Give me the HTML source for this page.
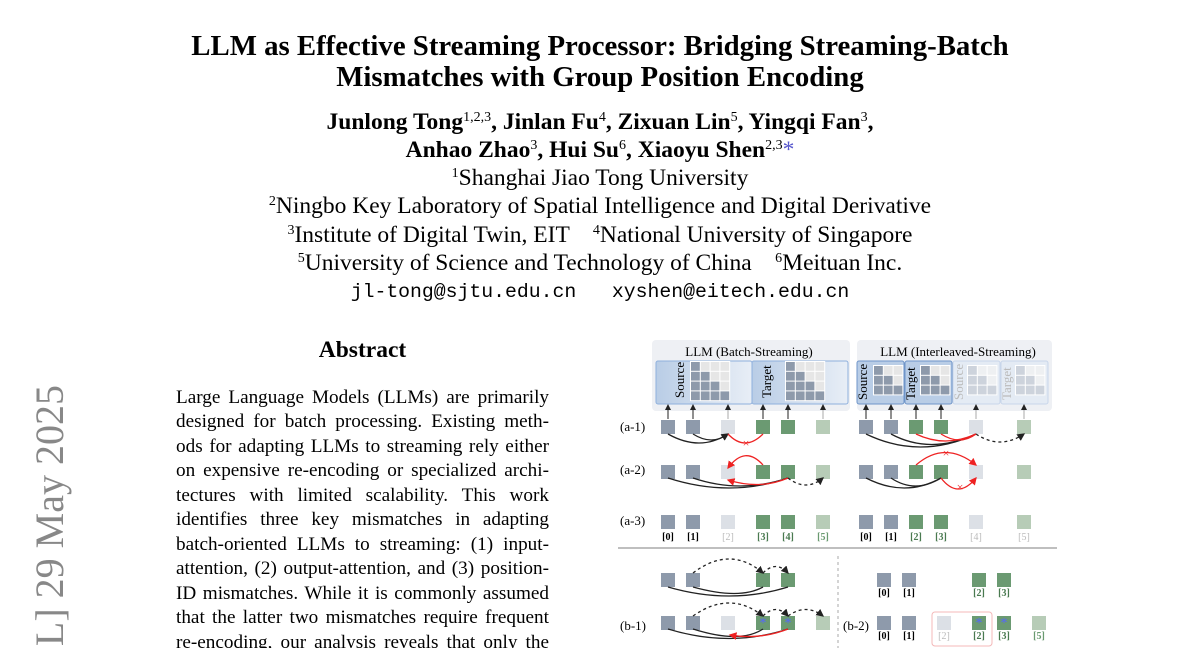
<!DOCTYPE html>
<html><head><meta charset="utf-8"><style>
html,body{margin:0;width:1200px;height:648px;overflow:hidden;background:#fff}
#w{position:relative;width:1200px;height:648px;overflow:hidden;font-family:"Liberation Serif",serif;color:#000}
.c{position:absolute;left:0;width:1200px;text-align:center;white-space:nowrap}
.t{font-weight:bold;font-size:28.8px;line-height:32px}
.a{font-weight:bold;font-size:23.5px;line-height:26px}
.f{font-size:23.5px;line-height:26px}
sup{font-size:14px;vertical-align:8px;font-weight:normal;line-height:0}
.ab{position:absolute;left:176px;width:373px;font-size:19.2px;text-align:justify;text-align-last:justify;white-space:nowrap;line-height:20px}
.side{position:absolute;left:28px;top:1285px;width:900px;height:44px;transform:rotate(-90deg);transform-origin:0 0;text-align:right;font-size:40px;color:#888;white-space:nowrap;line-height:44px}
</style></head><body><div id="w">
<div class="c t" style="top:30px">LLM as Effective Streaming Processor: Bridging Streaming-Batch</div>
<div class="c t" style="top:61px">Mismatches with Group Position Encoding</div>
<div class="c a" style="top:109px">Junlong Tong<sup>1,2,3</sup>, Jinlan Fu<sup>4</sup>, Zixuan Lin<sup>5</sup>, Yingqi Fan<sup>3</sup>,</div>
<div class="c a" style="top:137px">Anhao Zhao<sup>3</sup>, Hui Su<sup>6</sup>, Xiaoyu Shen<sup>2,3</sup><span style="color:#55c;font-weight:normal">*</span></div>
<div class="c f" style="top:165px"><sup>1</sup>Shanghai Jiao Tong University</div>
<div class="c f" style="top:193px"><sup>2</sup>Ningbo Key Laboratory of Spatial Intelligence and Digital Derivative</div>
<div class="c f" style="top:222px"><sup>3</sup>Institute of Digital Twin, EIT &nbsp;&nbsp;&nbsp;<sup>4</sup>National University of Singapore</div>
<div class="c f" style="top:250px"><sup>5</sup>University of Science and Technology of China &nbsp;&nbsp;&nbsp;<sup>6</sup>Meituan Inc.</div>
<div class="c" style="top:280px;font-family:'Liberation Mono',monospace;font-size:19.8px;line-height:24px">jl-tong@sjtu.edu.cn &nbsp;&nbsp;xyshen@eitech.edu.cn</div>
<div style="position:absolute;left:176px;width:373px;top:336px;text-align:center;font-weight:bold;font-size:23.5px;line-height:28px">Abstract</div>
<div class="ab" style="top:388px">Large Language Models (LLMs) are primarily</div>
<div class="ab" style="top:412px">designed for batch processing. Existing meth-</div>
<div class="ab" style="top:437px">ods for adapting LLMs to streaming rely either</div>
<div class="ab" style="top:461px">on expensive re-encoding or specialized archi-</div>
<div class="ab" style="top:486px">tectures with limited scalability. This work</div>
<div class="ab" style="top:510px">identifies three key mismatches in adapting</div>
<div class="ab" style="top:535px">batch-oriented LLMs to streaming: (1) input-</div>
<div class="ab" style="top:559px">attention, (2) output-attention, and (3) position-</div>
<div class="ab" style="top:584px">ID mismatches. While it is commonly assumed</div>
<div class="ab" style="top:608px">that the latter two mismatches require frequent</div>
<div class="ab" style="top:633px">re-encoding, our analysis reveals that only the</div>
<div class="side">arXiv:2505.16983v2 [cs.CL] 29 May 2025</div>

<svg width="1200" height="648" style="position:absolute;left:0;top:0" font-family="Liberation Serif,serif">
<defs><marker id="ar" markerWidth="6" markerHeight="6" refX="5" refY="3" orient="auto"><path d="M0,0L6,3L0,6z" fill="#222"/></marker>
<marker id="rr" markerWidth="6" markerHeight="6" refX="5" refY="3" orient="auto"><path d="M0,0L6,3L0,6z" fill="#e22"/></marker>
<linearGradient id="bg" x1="0" x2="1"><stop offset="0" stop-color="#b9cde6"/><stop offset="1" stop-color="#e8eef6"/></linearGradient></defs>
<rect x="652" y="340" width="198" height="71" rx="4" fill="#eef0f4"/>
<rect x="857" y="340" width="195" height="71" rx="4" fill="#eef0f4"/>
<text x="749" y="356" font-size="13" text-anchor="middle">LLM (Batch-Streaming)</text>
<text x="958" y="356" font-size="13" text-anchor="middle">LLM (Interleaved-Streaming)</text>
<rect x="656" y="361" width="96" height="43" rx="2" fill="url(#bg)" stroke="#8fb0dd"/>
<rect x="752" y="361" width="96" height="43" rx="2" fill="url(#bg)" stroke="#8fb0dd"/>
<rect x="857" y="361" width="47" height="43" rx="2" fill="#b9cde6" stroke="#6f95c9"/>
<rect x="905" y="361" width="47" height="43" rx="2" fill="#b9cde6" stroke="#6f95c9"/>
<rect x="953" y="361" width="47" height="43" rx="2" fill="#e4ebf4" stroke="#c8d6ea"/>
<rect x="1001" y="361" width="47" height="43" rx="2" fill="#e4ebf4" stroke="#c8d6ea"/>
<g font-size="13"><text transform="translate(684,398) rotate(-90)">Source</text>
<text transform="translate(771,398) rotate(-90)">Target</text>
<text transform="translate(867,400) rotate(-90)">Source</text>
<text transform="translate(915,400) rotate(-90)">Target</text>
<text transform="translate(963,400) rotate(-90)" fill="#bbb">Source</text>
<text transform="translate(1011,400) rotate(-90)" fill="#bbb">Target</text></g>
<g id="grids"></g>
<g id="sq"></g>
<g font-size="13"><text x="620" y="431">(a-1)</text><text x="620" y="474">(a-2)</text><text x="620" y="525">(a-3)</text>
<text x="620" y="630">(b-1)</text><text x="843" y="630">(b-2)</text></g>
<g font-size="10" font-weight="bold" text-anchor="middle">
<text x="668" y="540">[0]</text><text x="693" y="540">[1]</text><text x="728" y="540" fill="#bbb" font-weight="normal">[2]</text><text x="763" y="540" fill="#4a7a50">[3]</text><text x="788" y="540" fill="#4a7a50">[4]</text><text x="823" y="540" fill="#6a9a70">[5]</text>
<text x="866" y="540">[0]</text><text x="891" y="540">[1]</text><text x="916" y="540" fill="#4a7a50">[2]</text><text x="941" y="540" fill="#4a7a50">[3]</text><text x="976" y="540" fill="#bbb" font-weight="normal">[4]</text><text x="1024" y="540" fill="#bbb" font-weight="normal">[5]</text>
<text x="884" y="596">[0]</text><text x="909" y="596">[1]</text><text x="979" y="596" fill="#4a7a50">[2]</text><text x="1004" y="596" fill="#4a7a50">[3]</text>
<text x="884" y="639">[0]</text><text x="909" y="639">[1]</text><text x="944" y="639" fill="#bbb" font-weight="normal">[2]</text><text x="979" y="639" fill="#4a7a50">[2]</text><text x="1004" y="639" fill="#4a7a50">[3]</text><text x="1039" y="639" fill="#6a9a70">[5]</text></g>
<line x1="618" y1="548" x2="1057" y2="548" stroke="#aaa" stroke-width="1.5"/>
<line x1="838" y1="556" x2="838" y2="648" stroke="#aaa" stroke-dasharray="3,3"/>
<rect x="932" y="612" width="60" height="34" rx="3" fill="none" stroke="#f4b8b8"/>
<g fill="none" stroke="#222" stroke-width="1.3">
<path d="M668,434 Q700,452 728,434" marker-end="url(#ar)"/><path d="M693,434 Q712,446 728,434"/>
<path d="M866,434 Q920,460 976,434"/><path d="M891,434 Q930,455 976,434"/><path d="M976,434 Q1000,450 1024,434" stroke-dasharray="3,3" marker-end="url(#ar)"/>
<path d="M668,478 Q730,498 788,478"/><path d="M693,478 Q740,494 788,478"/><path d="M788,478 Q806,492 823,478" stroke-dasharray="3,3" marker-end="url(#ar)"/>
<path d="M866,478 Q905,498 941,478"/><path d="M891,478 Q915,494 941,478"/>
<path d="M668,587 Q730,605 788,587"/><path d="M693,587 Q740,600 763,587"/><path d="M693,573 Q730,545 763,573" stroke-dasharray="3,3" marker-end="url(#ar)"/><path d="M763,573 Q776,560 788,573" stroke-dasharray="3,3" marker-end="url(#ar)"/>
<path d="M668,629 Q730,648 788,629"/><path d="M693,629 Q740,644 763,629"/><path d="M693,616 Q730,590 763,616" stroke-dasharray="3,3" marker-end="url(#ar)"/><path d="M763,616 Q776,603 788,616" stroke-dasharray="3,3" marker-end="url(#ar)"/><path d="M788,616 Q806,603 823,616" stroke-dasharray="3,3" marker-end="url(#ar)"/>
</g>
<g fill="none" stroke="#e22" stroke-width="1.3">
<path d="M728,434 Q745,452 763,434"/><path d="M976,434 Q945,448 916,434"/><path d="M976,434 Q960,446 941,434"/>
<path d="M763,465 Q745,445 728,468" marker-end="url(#rr)"/><path d="M788,478 Q760,490 728,480" marker-end="url(#rr)"/>
<path d="M916,465 Q945,440 976,465" marker-end="url(#rr)"/><path d="M941,478 Q958,500 976,478" marker-end="url(#rr)"/>
<path d="M788,629 Q760,640 730,635" marker-end="url(#rr)"/></g>
<g fill="#e22" font-size="12" text-anchor="middle"><text x="746" y="447">×</text><text x="946" y="457">×</text><text x="960" y="491">×</text></g>
</svg>
</div>
<script>
var s='http://www.w3.org/2000/svg',g=document.getElementById('grids'),q=document.getElementById('sq');
function r(p,x,y,w,h,f){var e=document.createElementNS(s,'rect');e.setAttribute('x',x);e.setAttribute('y',y);e.setAttribute('width',w);e.setAttribute('height',h);e.setAttribute('fill',f);p.appendChild(e);}
function grid(x,y,n,c,op){r(g,x-1,y-1,n*9.8+1,n*9.8+1,'#fff');for(var i=0;i<n;i++)for(var j=0;j<n;j++){r(g,x+j*9.8,y+i*9.8,8.8,8.8,j<=i?(op?'#cdd3dc':'#8e9aab'):(op?'#eef0f2':'#e6e6e6'));}}
grid(691,362,4);grid(786,362,4);grid(874,366,3);grid(921,366,3);grid(968,366,3,0,1);grid(1016,366,3,0,1);
var G='#8e9aab',L='#dce0e6',D='#6b9a72',P='#b7ccb7';
function row(y,xs){xs.forEach(function(a){r(q,a[0]-7,y,14,14,a[1]);});}
var A=[[668,G],[693,G],[728,L],[763,D],[788,D],[823,P]],B=[[866,G],[891,G],[916,D],[941,D],[976,L],[1024,P]];
[420,465,515].forEach(function(y){row(y,A);row(y,B);});
row(573,[[668,G],[693,G],[763,D],[788,D],[884,G],[909,G],[979,D],[1004,D]]);
row(616,[[668,G],[693,G],[728,L],[763,D],[788,D],[823,P],[884,G],[909,G],[944,L],[979,D],[1004,D],[1039,P]]);
[668,693,728,763,788,823,866,891,916,941,976,1024].forEach(function(x,i){var l=document.createElementNS(s,'line');l.setAttribute('x1',x);l.setAttribute('x2',x);l.setAttribute('y1',419);l.setAttribute('y2',405);l.setAttribute('stroke',(i==2||i==5||i>9)?'#aaa':'#222');l.setAttribute('marker-end','url(#ar)');q.appendChild(l);});
[[763,622],[788,622],[979,622],[1004,622]].forEach(function(p){var t=document.createElementNS(s,'text');t.setAttribute('x',p[0]);t.setAttribute('y',p[1]+5);t.setAttribute('fill','#56f');t.setAttribute('font-size','14');t.setAttribute('text-anchor','middle');t.textContent='*';q.appendChild(t);});
</script>
</body></html>
